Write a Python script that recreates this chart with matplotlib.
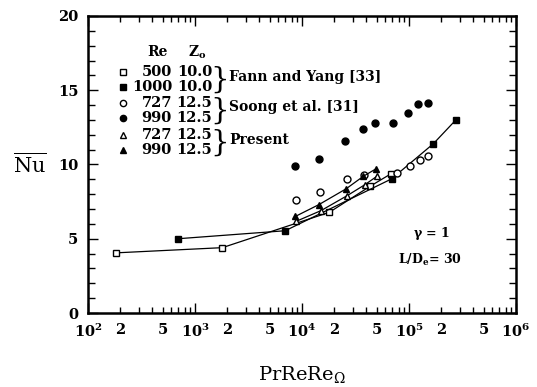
import numpy as np
import matplotlib
matplotlib.use('Agg')
import matplotlib.pyplot as plt
from matplotlib.ticker import LogLocator, FuncFormatter, MultipleLocator

plt.rcParams['font.family'] = 'DejaVu Serif'
plt.rcParams['mathtext.fontset'] = 'dejavuserif'

# Fann and Yang [33]
x_fy500 = [182, 1800, 18000, 43200, 68400]
y_fy500 = [4.05, 4.4, 6.78, 8.53, 9.39]
x_fy1000 = [690, 6970, 68700, 169000, 274000]
y_fy1000 = [5.0, 5.54, 9.03, 11.4, 13.0]
# Soong et al. [31]
x_s727 = [8750, 14800, 26200, 38000, 77600, 102000, 127000, 150000]
y_s727 = [7.64, 8.18, 8.99, 9.32, 9.46, 9.89, 10.3, 10.6]
x_s990 = [8510, 14300, 25300, 36900, 48200, 70300, 97700, 121000, 151000]
y_s990 = [9.89, 10.34, 11.57, 12.36, 12.77, 12.81, 13.47, 14.07, 14.17]
# Present
x_p727 = [8800, 15100, 26400, 38500, 50200]
y_p727 = [6.17, 6.9, 7.9, 8.63, 9.21]
x_p990 = [8650, 14400, 25800, 37500, 49200]
y_p990 = [6.5, 7.3, 8.36, 9.21, 9.71]

leg_re = ['500', '1000', '727', '990', '727', '990']
leg_z = ['10.0', '10.0', '12.5', '12.5', '12.5', '12.5']
leg_groups = ['Fann and Yang [33]', 'Soong et al. [31]', 'Present']

W, H = 537, 387
fig = plt.figure(figsize=(5.37, 3.87), dpi=100)
ax = fig.add_axes([0.1639, 0.1912, 0.797, 0.7675])

ms = 5
ax.plot(x_fy500, y_fy500, 's-', color='k', mfc='white', ms=ms, lw=0.9)
ax.plot(x_fy1000, y_fy1000, 's-', color='k', mfc='k', ms=ms, lw=0.9)
ax.plot(x_s727, y_s727, 'o', color='k', mfc='white', ms=ms)
ax.plot(x_s990, y_s990, 'o', color='k', mfc='k', ms=ms)
ax.plot(x_p727, y_p727, '^-', color='k', mfc='white', ms=ms, lw=0.9)
ax.plot(x_p990, y_p990, '^-', color='k', mfc='k', ms=ms, lw=0.9)

ax.set_xscale('log')
ax.set_xlim(1e2, 1e6)
ax.set_ylim(0, 20)
ax.yaxis.set_major_locator(MultipleLocator(5))
ax.yaxis.set_minor_locator(MultipleLocator(1))
ax.xaxis.set_major_locator(LogLocator(base=10, numticks=10))
ax.xaxis.set_minor_locator(LogLocator(base=10, subs=np.arange(2, 10), numticks=10))


def major_fmt(v, pos):
    return r'$\mathbf{10^{%d}}$' % int(round(np.log10(v)))


def minor_fmt(v, pos):
    m = v / 10 ** np.floor(np.log10(v) + 1e-9)
    m = int(round(m))
    return str(m) if m in (2, 5) else ''


ax.xaxis.set_major_formatter(FuncFormatter(major_fmt))
ax.xaxis.set_minor_formatter(FuncFormatter(minor_fmt))
ax.tick_params(which='both', direction='in', top=True, right=True, width=1.0)
ax.tick_params(which='major', length=7, labelsize=10.5, pad=7)
ax.tick_params(which='minor', length=4, labelsize=10.5, pad=7)
ax.tick_params(axis='y', which='minor', length=5)
for lab in ax.get_xticklabels(which='both') + ax.get_yticklabels():
    lab.set_fontweight('bold')
for sp in ax.spines.values():
    sp.set_linewidth(1.8)

ax.set_ylabel(r'$\overline{\mathrm{Nu}}$', fontsize=15, rotation=0, labelpad=20, va='center')
ax.set_xlabel(r'$\mathrm{PrReRe}_{\Omega}$', fontsize=14, labelpad=17)

# legend block drawn as text
markers = [('s', 'white'), ('s', 'k'), ('o', 'white'), ('o', 'k'), ('^', 'white'), ('^', 'k')]
fig.text(157 / W, 1 - 52 / H, 'Re', fontsize=10, fontweight='bold', ha='center', va='center')
fig.text(197 / W, 1 - 52 / H, r'Z$_\mathbf{o}$', fontsize=10, fontweight='bold', ha='center', va='center')
rows_y = [72, 87, 103, 118, 135, 150]
for (mk, fc), r, z, yy in zip(markers, leg_re, leg_z, rows_y):
    fig.lines.append(plt.Line2D([123 / W], [1 - yy / H], marker=mk, color='k', mfc=fc, ms=4.5,
                                transform=fig.transFigure))
    fig.text(172 / W, 1 - yy / H, r, fontsize=10.5, fontweight='bold', ha='right', va='center')
    fig.text(212 / W, 1 - yy / H, z, fontsize=10.5, fontweight='bold', ha='right', va='center')
for i, g in enumerate(leg_groups):
    yc = (rows_y[2 * i] + rows_y[2 * i + 1]) / 2
    fig.text(220 / W, 1 - yc / H, '}', fontsize=21, fontweight='light', ha='center', va='center')
    fig.text(229 / W, 1 - (yc - 3) / H, g, fontsize=10, fontweight='bold', ha='left', va='center')

fig.text(431 / W, 1 - 234 / H, r'$\mathbf{\gamma}$ = 1', fontsize=9, fontweight='bold', ha='center', va='center')
fig.text(430 / W, 1 - 260 / H, r'L/D$_\mathbf{e}$= 30', fontsize=9, fontweight='bold', ha='center', va='center')

fig.savefig('out.png', dpi=100)
